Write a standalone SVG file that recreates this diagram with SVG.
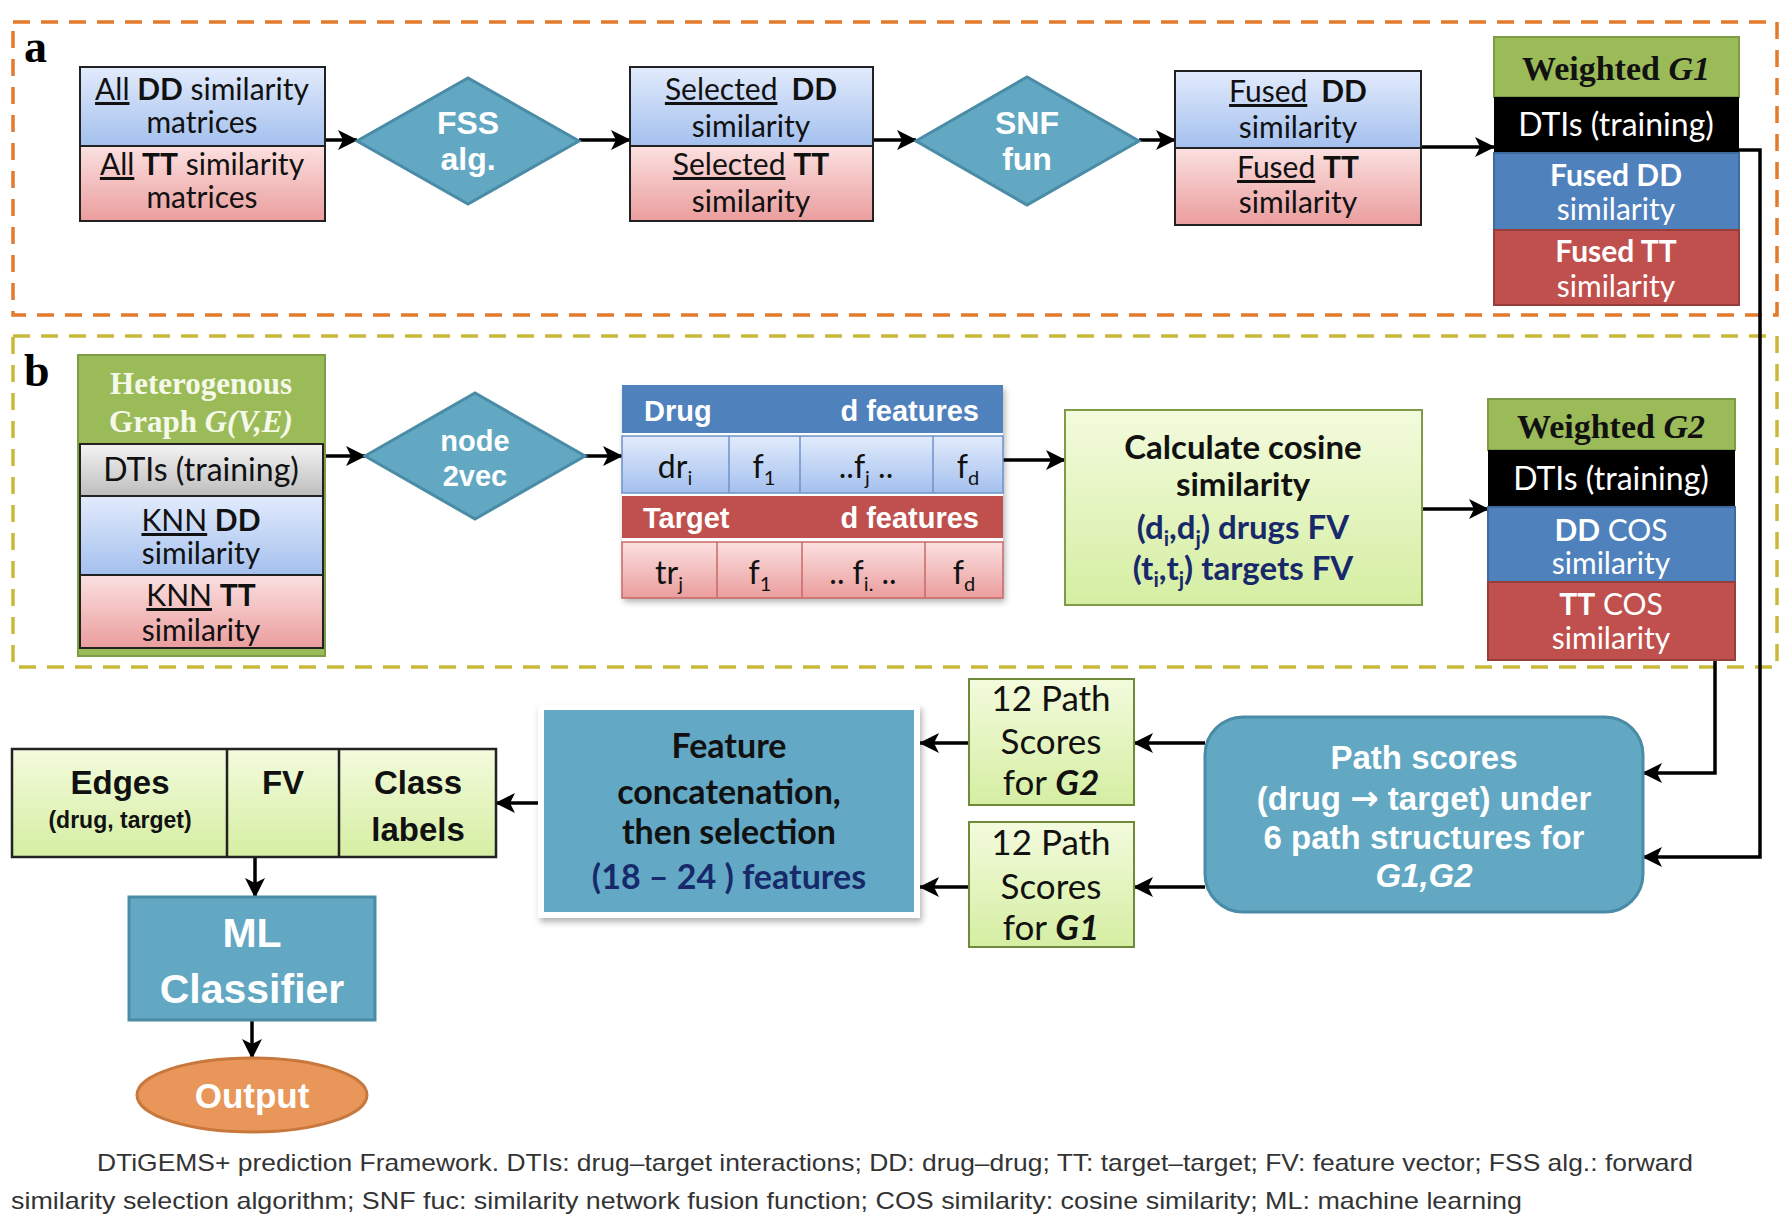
<svg xmlns="http://www.w3.org/2000/svg" width="1788" height="1220" viewBox="0 0 1788 1220">
<defs>
<linearGradient id="gBlue" x1="0" y1="0" x2="0" y2="1"><stop offset="0" stop-color="#E2EBFC"/><stop offset="1" stop-color="#A4C0EE"/></linearGradient>
<linearGradient id="gPink" x1="0" y1="0" x2="0" y2="1"><stop offset="0" stop-color="#FBE0E0"/><stop offset="1" stop-color="#EB9D9D"/></linearGradient>
<linearGradient id="gGray" x1="0" y1="0" x2="0" y2="1"><stop offset="0" stop-color="#F4F4F4"/><stop offset="1" stop-color="#BDBDBD"/></linearGradient>
<linearGradient id="gGreen" x1="0" y1="0" x2="0" y2="1"><stop offset="0" stop-color="#F3FBDD"/><stop offset="1" stop-color="#D5EEA2"/></linearGradient>
<marker id="arr" markerUnits="userSpaceOnUse" markerWidth="22" markerHeight="22" refX="20" refY="11" orient="auto">
<path d="M1,1 L21,11 L1,21 L6,11 Z" fill="#000"/>
</marker>
<filter id="sh" x="-10%" y="-10%" width="130%" height="130%"><feDropShadow dx="2" dy="4" stdDeviation="3" flood-color="#000" flood-opacity="0.3"/></filter>
</defs>
<style>
.cal{font-family:Lato,'Open Sans',sans-serif;}
.ari{font-family:'Liberation Sans',Arial,sans-serif;font-weight:bold;}
.tim{font-family:'Liberation Serif','Times New Roman',serif;font-weight:bold;}
.box{stroke:#222;stroke-width:2;}
.teal{fill:#62A8C3;stroke:#4A8BA6;stroke-width:3;}
.con{fill:none;stroke:#000;stroke-width:3.5;marker-end:url(#arr);}
.w{fill:#fff;}
.u{text-decoration:underline;}
.b{font-weight:bold;}
.navy{fill:#17296B;}
</style>
<rect width="1788" height="1220" fill="#fff"/>

<!-- section frames -->
<rect x="13" y="22" width="1764" height="293" fill="none" stroke="#E27B2B" stroke-width="3.5" stroke-dasharray="17 11"/>
<text x="24" y="62" class="tim" font-size="46">a</text>
<rect x="13" y="336" width="1764" height="331" fill="none" stroke="#C9B93A" stroke-width="3.5" stroke-dasharray="17 11"/>
<text x="24" y="386" class="tim" font-size="46">b</text>

<!-- connectors -->
<g id="connectors">
<path class="con" d="M325,140 H357"/>
<path class="con" d="M579,140 H630"/>
<path class="con" d="M873,140 H916"/>
<path class="con" d="M1139,140 H1175"/>
<path class="con" d="M1421,147 H1494"/>
<path class="con" d="M1739,150 H1760 V857 H1643"/>
<path class="con" d="M325,456 H365"/>
<path class="con" d="M585,456 H622"/>
<path class="con" d="M1003,460 H1065"/>
<path class="con" d="M1422,509 H1488"/>
<path class="con" d="M1715,660 V773 H1643"/>
<path class="con" d="M1205,743 H1134"/>
<path class="con" d="M1205,887 H1134"/>
<path class="con" d="M969,743 H920"/>
<path class="con" d="M969,887 H920"/>
<path class="con" d="M538,803 H496"/>
<path class="con" d="M255,857 V897"/>
<path class="con" d="M252,1020 V1058"/>
</g>

<!-- a: all similarity -->
<g id="all-sim">
<rect class="box" x="80" y="67" width="245" height="79" fill="url(#gBlue)"/>
<rect class="box" x="80" y="146" width="245" height="75" fill="url(#gPink)"/>
<g class="cal" font-size="30" text-anchor="middle" fill="#111">
<text x="202" y="100"><tspan class="u">All</tspan> <tspan class="b">DD</tspan> similarity</text>
<text x="202" y="133">matrices</text>
<text x="202" y="175"><tspan class="u">All</tspan> <tspan class="b">TT</tspan> similarity</text>
<text x="202" y="208">matrices</text>
</g>
</g>

<g id="fss">
<polygon class="teal" points="357,141 468,78 579,141 468,204"/>
<text class="ari w" font-size="32" text-anchor="middle"><tspan x="468" y="134">FSS</tspan><tspan x="468" y="170">alg.</tspan></text>
</g>

<g id="selected-sim">
<rect class="box" x="630" y="67" width="243" height="79" fill="url(#gBlue)"/>
<rect class="box" x="630" y="146" width="243" height="75" fill="url(#gPink)"/>
<g class="cal" font-size="30" text-anchor="middle" fill="#111">
<text x="751" y="100"><tspan class="u">Selected</tspan><tspan class="b" dx="14">DD</tspan></text>
<text x="751" y="137">similarity</text>
<text x="751" y="175"><tspan class="u">Selected</tspan> <tspan class="b">TT</tspan></text>
<text x="751" y="212">similarity</text>
</g>
</g>

<g id="snf">
<polygon class="teal" points="916,141 1027,77 1139,141 1027,205"/>
<text class="ari w" font-size="32" text-anchor="middle"><tspan x="1027" y="134">SNF</tspan><tspan x="1027" y="170">fun</tspan></text>
</g>

<g id="fused-sim">
<rect class="box" x="1175" y="71" width="246" height="77" fill="url(#gBlue)"/>
<rect class="box" x="1175" y="148" width="246" height="77" fill="url(#gPink)"/>
<g class="cal" font-size="30" text-anchor="middle" fill="#111">
<text x="1298" y="102"><tspan class="u">Fused</tspan><tspan class="b" dx="14">DD</tspan></text>
<text x="1298" y="138">similarity</text>
<text x="1298" y="178"><tspan class="u">Fused</tspan> <tspan class="b">TT</tspan></text>
<text x="1298" y="213">similarity</text>
</g>
</g>

<g id="weighted-g1">
<rect x="1494" y="37" width="245" height="60" fill="#9BBB59" stroke="#7E9C45" stroke-width="2"/>
<rect x="1494" y="97" width="245" height="56" fill="#000"/>
<rect x="1494" y="153" width="245" height="77" fill="#4F81BD" stroke="#3F6A9E" stroke-width="2"/>
<rect x="1494" y="230" width="245" height="75" fill="#C0504D" stroke="#963E3B" stroke-width="2"/>
<text x="1616" y="80" class="tim" font-size="34" text-anchor="middle" fill="#111">Weighted <tspan font-style="italic">G1</tspan></text>
<text x="1616" y="136" class="cal w" font-size="32" text-anchor="middle">DTIs (training)</text>
<g class="cal w" font-size="30" text-anchor="middle">
<text x="1616" y="186" class="b">Fused DD</text>
<text x="1616" y="220">similarity</text>
<text x="1616" y="262" class="b">Fused TT</text>
<text x="1616" y="297">similarity</text>
</g>
</g>

<!-- b -->
<g id="hetero-graph">
<rect x="78" y="355" width="247" height="301" fill="#9BBB59" stroke="#7E9C45" stroke-width="2"/>
<rect class="box" x="80" y="444" width="243" height="52" fill="url(#gGray)"/>
<rect class="box" x="80" y="496" width="243" height="79" fill="url(#gBlue)"/>
<rect class="box" x="80" y="575" width="243" height="73" fill="url(#gPink)"/>
<g class="tim" font-size="31" text-anchor="middle" fill="#F5F9EA">
<text x="201" y="394">Heterogenous</text>
<text x="201" y="432">Graph <tspan font-style="italic">G(V,E)</tspan></text>
</g>
<g class="cal" font-size="30" text-anchor="middle" fill="#111">
<text x="201" y="481" font-size="32">DTIs (training)</text>
<text x="201" y="531"><tspan class="u">KNN</tspan> <tspan class="b">DD</tspan></text>
<text x="201" y="564">similarity</text>
<text x="201" y="606"><tspan class="u">KNN</tspan> <tspan class="b">TT</tspan></text>
<text x="201" y="641">similarity</text>
</g>
</g>

<g id="node2vec">
<polygon class="teal" points="365,456 475,393 585,456 475,519"/>
<text class="ari w" font-size="29" text-anchor="middle"><tspan x="475" y="451">node</tspan><tspan x="475" y="486">2vec</tspan></text>
</g>

<g id="feature-table">
<rect x="622" y="385" width="381" height="213" fill="#fff" filter="url(#sh)"/>
<rect x="622" y="385" width="381" height="48" fill="#4F81BD"/>
<rect x="622" y="436" width="381" height="57" fill="url(#gBlue)" stroke="#6E93C9" stroke-width="1.5"/>
<rect x="622" y="496" width="381" height="42" fill="#C0504D"/>
<rect x="622" y="542" width="381" height="56" fill="url(#gPink)" stroke="#C76A68" stroke-width="1.5"/>
<path d="M729,436 V493 M800,436 V493 M933,436 V493" stroke="#6E93C9" stroke-width="1.5"/>
<path d="M717,542 V598 M802,542 V598 M925,542 V598" stroke="#C76A68" stroke-width="1.5"/>
<g class="ari w" font-size="29">
<text x="644" y="421">Drug</text>
<text x="979" y="421" text-anchor="end">d features</text>
<text x="643" y="528">Target</text>
<text x="979" y="528" text-anchor="end">d features</text>
</g>
<g class="cal" font-size="32" fill="#111" text-anchor="middle">
<text x="675" y="478">dr<tspan font-size="20" dy="7">i</tspan></text>
<text x="764" y="478">f<tspan font-size="20" dy="7">1</tspan></text>
<text x="866" y="478">..f<tspan font-size="20" dy="7">j</tspan><tspan dy="-7"> ..</tspan></text>
<text x="968" y="478">f<tspan font-size="20" dy="7">d</tspan></text>
<text x="669" y="584">tr<tspan font-size="20" dy="7">j</tspan></text>
<text x="760" y="584">f<tspan font-size="20" dy="7">1</tspan></text>
<text x="863" y="584">.. f<tspan font-size="20" dy="7">i.</tspan><tspan dy="-7"> ..</tspan></text>
<text x="964" y="584">f<tspan font-size="20" dy="7">d</tspan></text>
</g>
</g>

<g id="cosine">
<rect x="1065" y="410" width="357" height="195" fill="url(#gGreen)" stroke="#7F9A48" stroke-width="2"/>
<g class="cal b" font-size="33" text-anchor="middle" fill="#111">
<text x="1243" y="459">Calculate cosine</text>
<text x="1243" y="496">similarity</text>
<text x="1243" y="539" class="navy">(d<tspan font-size="21" dy="7">i</tspan><tspan dy="-7">,d</tspan><tspan font-size="21" dy="7">j</tspan><tspan dy="-7">) drugs FV</tspan></text>
<text x="1243" y="580" class="navy">(t<tspan font-size="21" dy="7">i</tspan><tspan dy="-7">,t</tspan><tspan font-size="21" dy="7">j</tspan><tspan dy="-7">) targets FV</tspan></text>
</g>
</g>

<g id="weighted-g2">
<rect x="1488" y="399" width="247" height="51" fill="#9BBB59" stroke="#7E9C45" stroke-width="2"/>
<rect x="1488" y="450" width="247" height="57" fill="#000"/>
<rect x="1488" y="507" width="247" height="75" fill="#4F81BD" stroke="#3F6A9E" stroke-width="2"/>
<rect x="1488" y="582" width="247" height="78" fill="#C0504D" stroke="#963E3B" stroke-width="2"/>
<text x="1611" y="438" class="tim" font-size="34" text-anchor="middle" fill="#111">Weighted <tspan font-style="italic">G2</tspan></text>
<text x="1611" y="490" class="cal w" font-size="32" text-anchor="middle">DTIs (training)</text>
<g class="cal w" font-size="30" text-anchor="middle">
<text x="1611" y="541"><tspan class="b">DD</tspan> COS</text>
<text x="1611" y="574">similarity</text>
<text x="1611" y="615"><tspan class="b">TT</tspan> COS</text>
<text x="1611" y="649">similarity</text>
</g>
</g>

<!-- bottom -->
<g id="path-scores">
<rect class="teal" x="1205" y="717" width="438" height="195" rx="38"/>
<g class="ari w" font-size="33" text-anchor="middle">
<text x="1424" y="769">Path scores</text>
<text x="1424" y="810">(drug <tspan font-family="'DejaVu Sans',sans-serif" font-size="34">→</tspan> target) under</text>
<text x="1424" y="849">6 path structures for</text>
<text x="1424" y="887" font-style="italic">G1,G2</text>
</g>
</g>

<g id="scores-g2">
<rect x="969" y="679" width="165" height="126" fill="url(#gGreen)" stroke="#6F8A3A" stroke-width="2"/>
<g class="cal" font-size="35" text-anchor="middle" fill="#111">
<text x="1051" y="711">12 Path</text>
<text x="1051" y="754">Scores</text>
<text x="1051" y="795">for <tspan class="b" font-style="italic">G2</tspan></text>
</g>
</g>

<g id="scores-g1">
<rect x="969" y="822" width="165" height="125" fill="url(#gGreen)" stroke="#6F8A3A" stroke-width="2"/>
<g class="cal" font-size="35" text-anchor="middle" fill="#111">
<text x="1051" y="855">12 Path</text>
<text x="1051" y="899">Scores</text>
<text x="1051" y="940">for <tspan class="b" font-style="italic">G1</tspan></text>
</g>
</g>

<g id="feature-concat">
<rect x="538" y="705" width="382" height="213" fill="#fff" filter="url(#sh)"/>
<rect x="544" y="710" width="370" height="202" fill="#63A9C5"/>
<g class="cal b" font-size="34" text-anchor="middle" fill="#111">
<text x="729" y="758">Feature</text>
<text x="729" y="804">concatenation,</text>
<text x="729" y="844">then selection</text>
<text x="729" y="889" class="navy">(18 – 24 ) features</text>
</g>
</g>

<g id="edges-table">
<rect x="12" y="749" width="484" height="108" fill="url(#gGreen)" stroke="#222" stroke-width="2.5"/>
<path d="M227,749 V857 M339,749 V857" stroke="#222" stroke-width="2.5"/>
<g class="ari" font-size="33" text-anchor="middle" fill="#111">
<text x="120" y="794">Edges</text>
<text x="120" y="828" font-size="23">(drug, target)</text>
<text x="283" y="794">FV</text>
<text x="418" y="794">Class</text>
<text x="418" y="841">labels</text>
</g>
</g>

<g id="ml-classifier">
<rect class="teal" x="129" y="897" width="246" height="123"/>
<g class="ari w" font-size="41" text-anchor="middle">
<text x="252" y="947">ML</text>
<text x="252" y="1003">Classifier</text>
</g>
</g>

<g id="output">
<ellipse cx="252" cy="1095" rx="115" ry="37" fill="#E8965A" stroke="#C8783C" stroke-width="3"/>
<text x="252" y="1108" class="ari w" font-size="35" text-anchor="middle">Output</text>
</g>

<g id="caption" font-family="'Liberation Sans',Arial,sans-serif" font-size="24" fill="#333">
<text x="97" y="1171" textLength="1596" lengthAdjust="spacingAndGlyphs">DTiGEMS+ prediction Framework. DTIs: drug–target interactions; DD: drug–drug; TT: target–target; FV: feature vector; FSS alg.: forward</text>
<text x="11" y="1209" textLength="1511" lengthAdjust="spacingAndGlyphs">similarity selection algorithm; SNF fuc: similarity network fusion function; COS similarity: cosine similarity; ML: machine learning</text>
</g>
</svg>
